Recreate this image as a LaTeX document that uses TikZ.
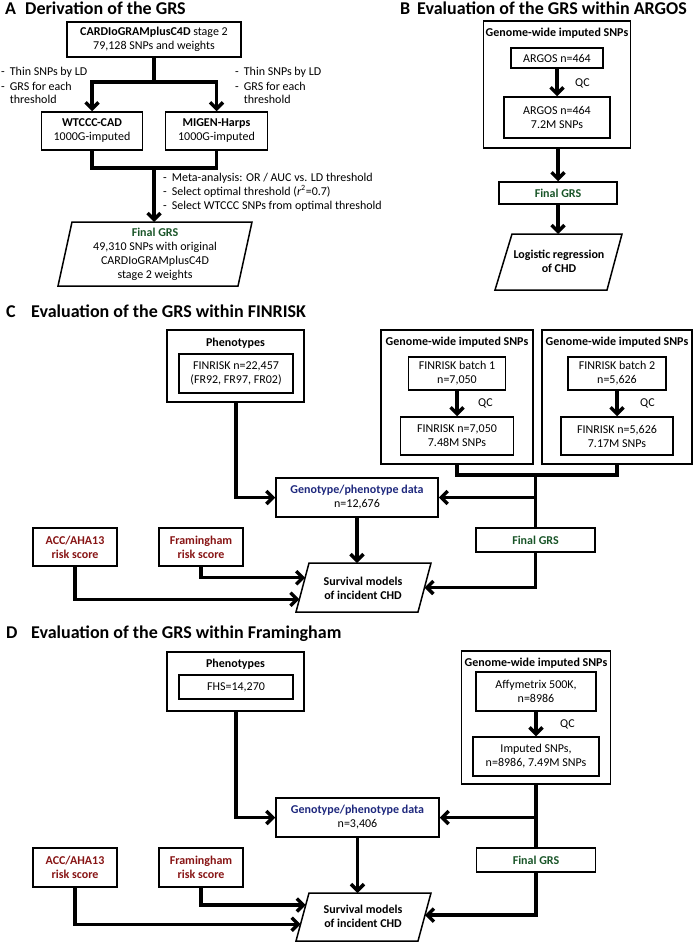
\documentclass[tikz,border=0pt]{standalone}
\usepackage{fontspec}
\setmainfont{Carlito}
\usetikzlibrary{arrows.meta,calc}
\definecolor{grsgreen}{RGB}{25,85,40}
\definecolor{genoblue}{RGB}{30,40,125}
\definecolor{riskred}{RGB}{135,20,20}
\newcommand\bodyfs{\fontsize{12}{14}\selectfont}
\newcommand\titlefs{\fontsize{18}{22}\selectfont\bfseries}
\newcommand\dashlist[1]{\begin{tabular}{@{}l@{\hspace{5pt}}l@{}}#1\end{tabular}}
\begin{document}
\begin{tikzpicture}[x=1pt,y=-1pt,
  box/.style={draw, line width=1.5pt, align=center, inner sep=0pt, font=\bodyfs},
  edge/.style={draw, line width=1.5pt, line join=miter},
  conn/.style={line width=3.4pt, line join=miter},
  arr/.style={conn, -{Straight Barb[length=6.5pt,width=13pt]}},
  lbl/.style={inner sep=0pt, font=\bodyfs, align=center},
  ttl/.style={inner sep=0pt, font=\titlefs, anchor=base west}]
\useasboundingbox (0,0) rectangle (700,942);

% ================= Panel A =================
\node[ttl] (tA) at (5,15) {A};
\node[ttl] (tAt) at (25,15) {Derivation of the GRS};
\node[box, minimum width=174pt, minimum height=35pt] (cardio) at (154,39.5)
  {\textbf{CARDIoGRAMplusC4D} stage 2\\79,128 SNPs and weights};
\node[box, minimum width=101pt, minimum height=38pt] (wtccc) at (92,131)
  {\textbf{WTCCC-CAD}\\1000G-imputed};
\node[box, minimum width=102pt, minimum height=38pt] (migen) at (216.5,131)
  {\textbf{MIGEN-Harps}\\1000G-imputed};
\node[lbl, anchor=north west, align=left] (thinL) at (1,66)
  {\dashlist{-&Thin SNPs by LD\\-&GRS for each\\&threshold}};
\node[lbl, anchor=north west, align=left] (thinR) at (235,66)
  {\dashlist{-&Thin SNPs by LD\\-&GRS for each\\&threshold}};
\coordinate (jA1) at (154,82);
\draw[conn] (cardio.south) -- (jA1);
\draw[arr] (jA1) -| (wtccc.north);
\draw[arr] (jA1) -| (migen.north);
\coordinate (jA2) at (154,168);
\draw[conn] (wtccc.south) -- (wtccc.south |- jA2) -- (migen.south |- jA2) -- (migen.south);
\node[lbl, anchor=north west, align=left] (meta) at (163,171)
  {\dashlist{-&Meta-analysis: OR / AUC vs. LD threshold\\-&Select optimal threshold (\textit{r}\textsuperscript{2}=0.7)\\-&Select WTCCC SNPs from optimal threshold}};
\coordinate (fA-tl) at (72,222);
\coordinate (fA-tr) at (252,222);
\coordinate (fA-br) at (238,286);
\coordinate (fA-bl) at (58,286);
\draw[edge] (fA-tl) -- (fA-tr) -- (fA-br) -- (fA-bl) -- cycle;
\node[lbl] (finalA) at (155,254)
  {\textcolor{grsgreen}{\textbf{Final GRS}}\\49,310 SNPs with original\\CARDIoGRAMplusC4D\\stage 2 weights};
\draw[arr] (jA2) -- (jA2 |- fA-tl);

% ================= Panel B =================
\node[ttl] (tB) at (400,15) {B};
\node[ttl] (tBt) at (417,15) {Evaluation of the GRS within ARGOS};
\node[box, minimum width=147pt, minimum height=127pt] (genB) at (557,84.5) {};
\node[lbl, font=\bodyfs\bfseries] (genBl) at (557,33) {Genome-wide imputed SNPs};
\node[box, minimum width=92pt, minimum height=20pt] (argos1) at (557,58) {ARGOS n=464};
\node[box, minimum width=106pt, minimum height=41pt] (argos2) at (557,117.5) {ARGOS n=464\\7.2M SNPs};
\draw[arr] (argos1.south) -- (argos2.north);
\node[lbl, anchor=west] (qcB) at (575,83) {QC};
\node[box, minimum width=118pt, minimum height=22pt] (finalB) at (558,193) {\textcolor{grsgreen}{\textbf{Final GRS}}};
\draw[arr] (genB.south -| finalB.north) -- (finalB.north);
\coordinate (pB-tl) at (512,234);
\coordinate (pB-tr) at (622,234);
\coordinate (pB-br) at (607,290);
\coordinate (pB-bl) at (495,290);
\draw[edge] (pB-tl) -- (pB-tr) -- (pB-br) -- (pB-bl) -- cycle;
\node[lbl, font=\bodyfs\bfseries] (logB) at (559,261) {Logistic regression\\of CHD};
\draw[arr] (finalB.south) -- (finalB.south |- pB-tl);

% ================= Panel C =================
\node[ttl] (tC) at (6,317) {C};
\node[ttl] (tCt) at (31,317) {Evaluation of the GRS within FINRISK};
\node[box, minimum width=137pt, minimum height=72pt] (phenC) at (235.5,366) {};
\node[lbl, font=\bodyfs\bfseries] (phenCl) at (235.5,343) {Phenotypes};
\node[box, minimum width=114pt, minimum height=39pt] (phenCi) at (236,373.5) {FINRISK n=22,457\\(FR92, FR97, FR02)};

\node[box, minimum width=152pt, minimum height=134pt] (b1) at (457,397) {};
\node[lbl, font=\bodyfs\bfseries] (b1l) at (457,342) {Genome-wide imputed SNPs};
\node[box, minimum width=97pt, minimum height=33pt] (b1a) at (457,373.5) {FINRISK batch 1\\n=7,050};
\node[box, minimum width=113pt, minimum height=38pt] (b1b) at (457,436) {FINRISK n=7,050\\7.48M SNPs};
\draw[arr] (b1a.south) -- (b1b.north);
\node[lbl, anchor=west] (qcC1) at (478,403) {QC};

\node[box, minimum width=150pt, minimum height=134pt] (b2) at (617,397) {};
\node[lbl, font=\bodyfs\bfseries] (b2l) at (617,342) {Genome-wide imputed SNPs};
\node[box, minimum width=98pt, minimum height=33pt] (b2a) at (617,373.5) {FINRISK batch 2\\n=5,626};
\node[box, minimum width=112pt, minimum height=38pt] (b2b) at (617,436) {FINRISK n=5,626\\7.17M SNPs};
\draw[arr] (b2a.south) -- (b2b.north);
\node[lbl, anchor=west] (qcC2) at (640,403) {QC};

\node[box, minimum width=162pt, minimum height=39pt] (genoC) at (357,497.5)
  {\textcolor{genoblue}{\textbf{Genotype/phenotype data}}\\n=12,676};
\node[box, minimum width=119pt, minimum height=24pt] (finalC) at (535.5,540) {\textcolor{grsgreen}{\textbf{Final GRS}}};
\node[box, minimum width=84pt, minimum height=38pt, font=\bodyfs\bfseries, text=riskred] (accC) at (75,547) {ACC/AHA13\\risk score};
\node[box, minimum width=84pt, minimum height=38pt, font=\bodyfs\bfseries, text=riskred] (framC) at (201,547) {Framingham\\risk score};

\coordinate (jC) at (535.5,475);
\draw[conn] (b1.south) -- (b1.south |- jC) -- (b2.south |- jC) -- (b2.south);
\draw[conn] (jC) -- (finalC.north);
\draw[arr] (jC |- genoC.east) -- (genoC.east);
\draw[arr] (phenC.south -| phenCi.south) |- (genoC.west);

\coordinate (sC-tl) at (309,563);
\coordinate (sC-tr) at (431,563);
\coordinate (sC-br) at (418,612);
\coordinate (sC-bl) at (296,612);
\draw[edge] (sC-tl) -- (sC-tr) -- (sC-br) -- (sC-bl) -- cycle;
\node[lbl, font=\bodyfs\bfseries] (survC) at (363,588) {Survival models\\of incident CHD};
\draw[arr] (genoC.south) -- (genoC.south |- sC-tl);
\draw[arr] (framC.south) |- ($(sC-tl)!0.3!(sC-bl)$);
\draw[arr] (accC.south) |- ($(sC-tl)!0.74!(sC-bl)$);
\draw[arr] (finalC.south) |- ($(sC-tr)!0.5!(sC-br)$);

% ================= Panel D =================
\node[ttl] (tD) at (6,638) {D};
\node[ttl] (tDt) at (31,638) {Evaluation of the GRS within Framingham};
\node[box, minimum width=137pt, minimum height=59pt] (phenD) at (235.5,681.5) {};
\node[lbl, font=\bodyfs\bfseries] (phenDl) at (235.5,664) {Phenotypes};
\node[box, minimum width=114pt, minimum height=24pt] (phenDi) at (236,687) {FHS=14,270};

\node[box, minimum width=149pt, minimum height=133pt] (genD) at (536,717.5) {};
\node[lbl, font=\bodyfs\bfseries] (genDl) at (536,663) {Genome-wide imputed SNPs};
\node[box, minimum width=120pt, minimum height=39pt] (affy) at (536,691.5) {Affymetrix 500K,\\n=8986};
\node[box, minimum width=126pt, minimum height=39pt] (imp) at (536,756.5) {Imputed SNPs,\\n=8986, 7.49M SNPs};
\draw[arr] (affy.south) -- (imp.north);
\node[lbl, anchor=west] (qcD) at (560,724) {QC};

\node[box, minimum width=163pt, minimum height=39pt] (genoD) at (357.5,817.5)
  {\textcolor{genoblue}{\textbf{Genotype/phenotype data}}\\n=3,406};
\node[box, minimum width=119pt, minimum height=24pt] (finalD) at (536,860) {\textcolor{grsgreen}{\textbf{Final GRS}}};
\node[box, minimum width=84pt, minimum height=39pt, font=\bodyfs\bfseries, text=riskred] (accD) at (75,867.5) {ACC/AHA13\\risk score};
\node[box, minimum width=84pt, minimum height=39pt, font=\bodyfs\bfseries, text=riskred] (framD) at (201,867.5) {Framingham\\risk score};

\draw[conn] (genD.south) -- (finalD.north);
\draw[arr] (genD.south |- genoD.east) -- (genoD.east);
\draw[arr] (phenD.south -| phenDi.south) |- (genoD.west);

\coordinate (sD-tl) at (309,893);
\coordinate (sD-tr) at (431,893);
\coordinate (sD-br) at (418,941);
\coordinate (sD-bl) at (296,941);
\draw[edge] (sD-tl) -- (sD-tr) -- (sD-br) -- (sD-bl) -- cycle;
\node[lbl, font=\bodyfs\bfseries] (survD) at (363,916) {Survival models\\of incident CHD};
\draw[arr] (genoD.south) -- (genoD.south |- sD-tl);
\draw[arr] (framD.south) |- ($(sD-tl)!0.25!(sD-bl)$);
\draw[arr] (accD.south) |- ($(sD-tl)!0.65!(sD-bl)$);
\draw[arr] (finalD.south) |- ($(sD-tr)!0.46!(sD-br)$);
\end{tikzpicture}
\end{document}
